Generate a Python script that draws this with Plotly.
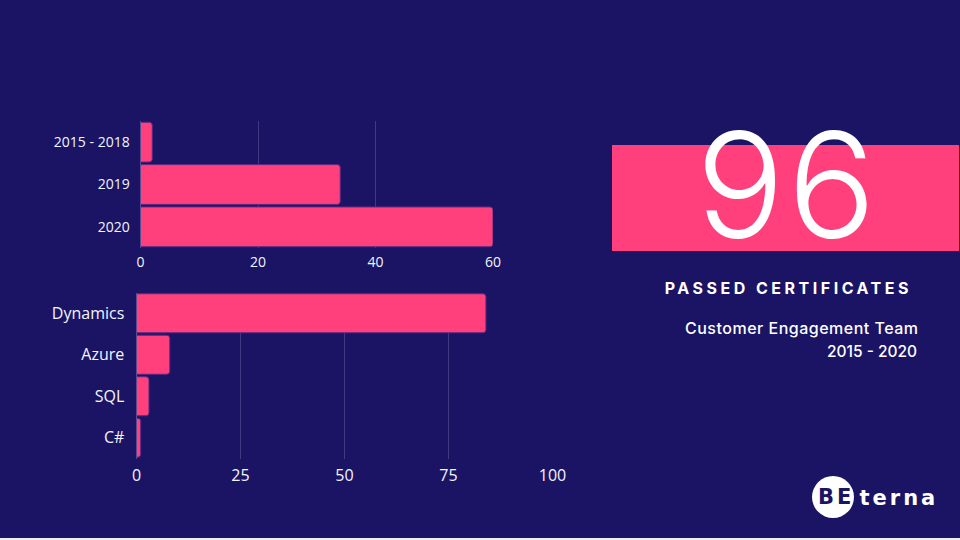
import plotly.graph_objects as go

# certificates per period
periods = ["2015 - 2018", "2019", "2020"]
period_counts = [2, 34, 60]
period_ticks = [0, 20, 40, 60]

# certificates per technology
techs = ["Dynamics", "Azure", "SQL", "C#"]
tech_counts = [84, 8, 3, 1]
tech_ticks = [0, 25, 50, 75, 100]

W = 960
H = 540
BG = "#1b1464"
PINK = "#ff407d"
GRID = "rgba(255,255,255,0.17)"
LABEL = "#f2f4ff"


def px(x):
    return x / W


def py(y):
    return 1 - y / H


fig = go.Figure()
fig.add_trace(go.Bar(y=periods, x=period_counts, orientation="h", xaxis="x", yaxis="y",
                     marker=dict(color=PINK, cornerradius=3, line=dict(color="#5a2a80", width=1))))
fig.add_trace(go.Bar(y=techs, x=tech_counts, orientation="h", xaxis="x2", yaxis="y2",
                     marker=dict(color=PINK, cornerradius=3, line=dict(color="#5a2a80", width=1))))

fig.update_layout(
    width=W, height=H, autosize=False, margin=dict(l=0, r=0, t=0, b=0, pad=0, autoexpand=False),
    paper_bgcolor=BG, plot_bgcolor=BG, showlegend=False, bargap=0.06,
    font=dict(family="Open Sans", color=LABEL),
    xaxis=dict(domain=[px(140.5), px(493)], anchor="y", range=[0, 60], tickvals=period_ticks,
               gridcolor=GRID, gridwidth=1, zeroline=False, showline=False,
               tickfont=dict(size=14), ticklabelstandoff=4),
    yaxis=dict(domain=[py(248), py(121)], anchor="x", range=[2.5, -0.5], categoryorder="array",
               categoryarray=periods, showgrid=False, zeroline=False, showline=True,
               linecolor="#5a4a90", tickfont=dict(size=14), ticklabelstandoff=7),
    xaxis2=dict(domain=[px(136.5), px(552.5)], anchor="y2", range=[0, 100], tickvals=tech_ticks,
                gridcolor=GRID, gridwidth=1, zeroline=False, showline=False,
                tickfont=dict(size=16), ticklabelstandoff=5),
    yaxis2=dict(domain=[py(458.5), py(292.5)], anchor="x2", range=[3.5, -0.5], categoryorder="array",
                categoryarray=techs, showgrid=False, zeroline=False, showline=True,
                linecolor="#5a4a90", tickfont=dict(size=16), ticklabelstandoff=8),
    shapes=[
        dict(type="rect", xref="paper", yref="paper", x0=px(612), x1=px(959), y0=py(251), y1=py(145),
             fillcolor=PINK, line_width=0, layer="below"),
        dict(type="circle", xref="paper", yref="paper", x0=px(812), x1=px(854), y0=py(518), y1=py(476),
             fillcolor="white", line_width=0, layer="below"),
        dict(type="rect", xref="paper", yref="paper", x0=0, x1=1, y0=0, y1=py(538),
             fillcolor="#eceef2", line_width=0, layer="below"),
    ],
)


def label(x, y, text, size, anchor="center", family="Inter", color="white", weight=None):
    fig.add_annotation(xref="paper", yref="paper", x=px(x), y=py(y), text=text, showarrow=False,
                       xanchor=anchor, yanchor="middle", borderpad=0,
                       font=dict(family=family, size=size, color=color, weight=weight))


label(787, 184, "96", 147, weight=300)
label(788, 288, "PASSED CERTIFICATES", 16, weight=700)
label(914, 328, "Customer Engagement Team", 16, anchor="right", weight=500)
label(918, 351, "2015 - 2020", 15.5, anchor="right", weight=500)
label(836, 497, "BE", 21, family="DejaVu Sans", color=BG, weight=700)
label(899, 498, "terna", 21, family="DejaVu Sans", weight=700)

# letter spacing is not a plotly font option, set it on the svg text
post = """
document.documentElement.style.overflow = 'hidden';
document.body.style.margin = '0';
var spacing = {'96': '3px', 'PASSED CERTIFICATES': '3.5px', 'Customer Engagement Team': '0.5px',
               'terna': '3px', 'BE': '3px'};
document.querySelectorAll('.annotation-text').forEach(function (t) {
    if (spacing[t.textContent]) { t.style.letterSpacing = spacing[t.textContent]; }
});
"""
fig.write_html("out.html", post_script=post, default_width="960px", default_height="540px",
               config={"displayModeBar": False, "responsive": False})
